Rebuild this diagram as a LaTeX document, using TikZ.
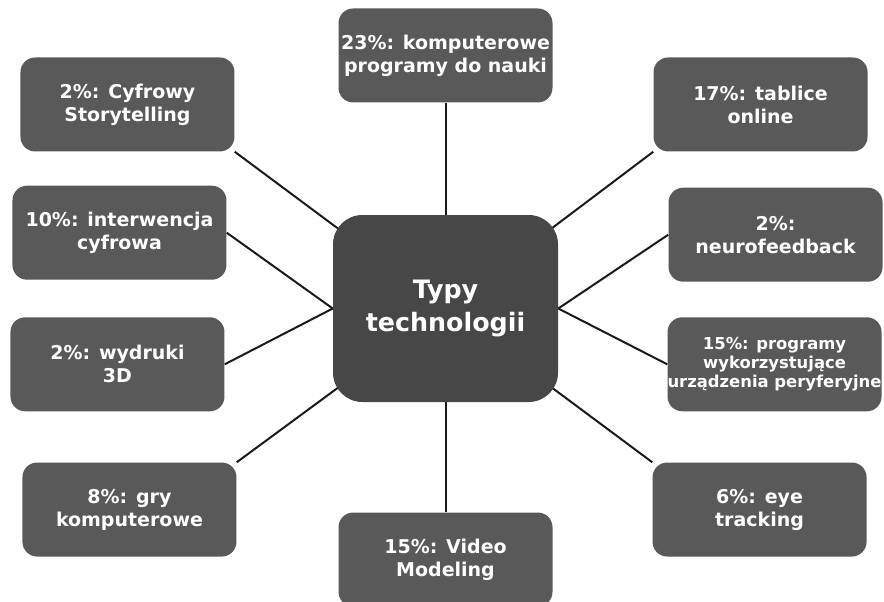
\documentclass[tikz,border=0pt]{standalone}
\usepackage{fontspec}
\setmainfont{DejaVu Sans}
\usepackage{tikz}
\usetikzlibrary{positioning,backgrounds}
\definecolor{boxgray}{HTML}{595959}
\definecolor{hubgray}{HTML}{474747}
\definecolor{linkgray}{HTML}{1A1A1A}

\begin{document}
\begin{tikzpicture}[x=0.75pt, y=0.75pt,
    box/.style={fill=boxgray, text=white, rounded corners=11pt, minimum width=160.5pt, minimum height=70.5pt, inner sep=0pt, align=center, font=\bfseries\fontsize{14.25}{17.25}\selectfont},
    hub/.style={fill=hubgray, text=white, rounded corners=22pt, minimum width=168.75pt, minimum height=140.25pt, inner sep=0pt, align=center, font=\bfseries\fontsize{19}{24.75}\selectfont},
    link/.style={draw=linkgray, line width=1.5pt}]

    \useasboundingbox (0,0) rectangle (884,601);

    \node [hub] (t) at (445.5,292.5) {Typy\\technologii};

    \node [box, above=84pt of t] (prog) {23\%: komputerowe\\programy do nauki};
    \node [box, above left=47.25pt and 73.5pt of t] (story) {2\%: Cyfrowy\\Storytelling};
    \node [box, above right=47.25pt and 71.25pt of t] (tab) {17\%: tablice\\online};
    \node [box, above left=21.4pt and 79.5pt of t.west] (interw) {10\%: interwencja\\cyfrowa};
    \node [box, above right=19.9pt and 82.5pt of t.east] (neuro) {2\%:\\neurofeedback};
    \node [box, below left=6.4pt and 81pt of t.west] (druk) {2\%: wydruki\\3D};
    \node [box, below right=6.4pt and 81.75pt of t.east, font=\bfseries\fontsize{12.3}{14.25}\selectfont] (peri) {15\%: programy\\wykorzystujące\\urządzenia peryferyjne};
    \node [box, below left=45pt and 72pt of t] (gry) {8\%: gry\\komputerowe};
    \node [box, below right=45pt and 70.5pt of t] (eye) {6\%: eye\\tracking};
    \node [box, below=82.5pt of t] (video) {15\%: Video\\Modeling};

    % collegamenti al centro
    \begin{scope}[on background layer]
        \draw [link] (t.north) -- (prog.south);
        \draw [link] (story.south east) -- (t.center);
        \draw [link] (tab.south west) -- (t.center);
        \draw [link] (interw.east) -- (t.west);
        \draw [link] (neuro.west) -- (t.east);
        \draw [link] (druk.east) -- (t.west);
        \draw [link] (peri.west) -- (t.east);
        \draw [link] (gry.north east) -- (t.center);
        \draw [link] (eye.north west) -- (t.center);
        \draw [link] (t.south) -- (video.north);
    \end{scope}

\end{tikzpicture}
\end{document}
